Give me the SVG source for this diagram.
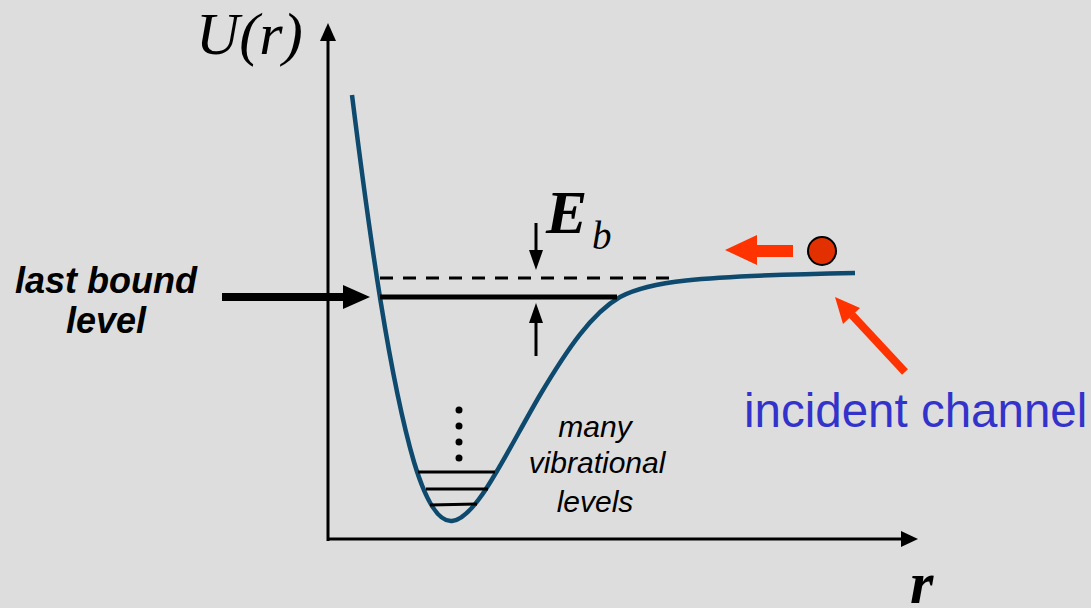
<svg xmlns="http://www.w3.org/2000/svg" width="1091" height="608" viewBox="0 0 1091 608">
<defs>
<style>
.ax{stroke:#000;stroke-width:3;fill:none}
.lvl{stroke:#000;stroke-width:3}
.serif{font-family:"Liberation Serif","Times New Roman",serif;font-style:italic}
.sans{font-family:"Liberation Sans",Arial,sans-serif}
</style>
</defs>
<rect width="1091" height="608" fill="#dddddd"/>
<g id="axes">
<line class="ax" x1="328" y1="541" x2="328" y2="38"/>
<polygon points="328,23 320,41 336,41" fill="#000"/>
<line class="ax" x1="328" y1="539" x2="904" y2="539"/>
<polygon points="918,539 901,531 901,547" fill="#000"/>
</g>
<g id="curve">
<path d="M352,95 C370,240 390,380 414,462 C427,505 440,522 452,521 C476,519 505,455 540,395 C568,348 592,313 620,297 C648,282 690,276 855,273" fill="none" stroke="#0e4a6e" stroke-width="4.5"/>
</g>
<g id="levels">
<line x1="380" y1="278" x2="676" y2="278" stroke="#000" stroke-width="3" stroke-dasharray="13,10"/>
<line x1="380" y1="297" x2="617" y2="297" stroke="#000" stroke-width="5"/>
<line class="lvl" x1="418" y1="472" x2="495" y2="472"/>
<line class="lvl" x1="426" y1="489" x2="488" y2="489"/>
<line class="lvl" x1="430" y1="505" x2="477" y2="504"/>
<circle cx="459" cy="410" r="3.5"/>
<circle cx="459" cy="426" r="3.5"/>
<circle cx="459" cy="442" r="3.5"/>
<circle cx="459" cy="458" r="3.5"/>
</g>
<g id="eb-arrows">
<line x1="536" y1="223" x2="536" y2="252" stroke="#000" stroke-width="3"/>
<polygon points="536,270 529,250 543,250" fill="#000"/>
<line x1="536" y1="322" x2="536" y2="356" stroke="#000" stroke-width="3"/>
<polygon points="536,303 529,323 543,323" fill="#000"/>
</g>
<g id="last-bound-arrow">
<line x1="222" y1="297" x2="345" y2="297" stroke="#000" stroke-width="8"/>
<polygon points="370,297 343,285 343,309" fill="#000"/>
</g>
<g id="particle">
<polygon points="725,250 757,235 757,245 793,245 793,257 757,257 757,265" fill="#ff3300"/>
<circle cx="822" cy="251" r="14" fill="#e23000" stroke="#000" stroke-width="2"/>
<line x1="905" y1="372" x2="852" y2="315" stroke="#ff3300" stroke-width="8"/>
<polygon points="835,297 860,308 843,324" fill="#ff3300"/>
</g>
<g id="labels">
<text class="serif" x="196" y="54" font-size="60">U(r)</text>
<text class="serif" x="910" y="603" font-size="60" font-weight="bold">r</text>
<text class="serif" x="546" y="233" font-size="62" font-weight="bold">E</text>
<text class="serif" x="592" y="249" font-size="39">b</text>
<text class="sans" x="106" y="293" font-size="36" font-weight="bold" font-style="italic" text-anchor="middle">last bound</text>
<text class="sans" x="106" y="333" font-size="36" font-weight="bold" font-style="italic" text-anchor="middle">level</text>
<text class="sans" x="595" y="437" font-size="30" font-style="italic" text-anchor="middle">many</text>
<text class="sans" x="597" y="473" font-size="30" font-style="italic" text-anchor="middle">vibrational</text>
<text class="sans" x="595" y="512" font-size="30" font-style="italic" text-anchor="middle">levels</text>
<text class="sans" x="744" y="427" font-size="47.5" fill="#3333cc">incident channel</text>
</g>
</svg>
